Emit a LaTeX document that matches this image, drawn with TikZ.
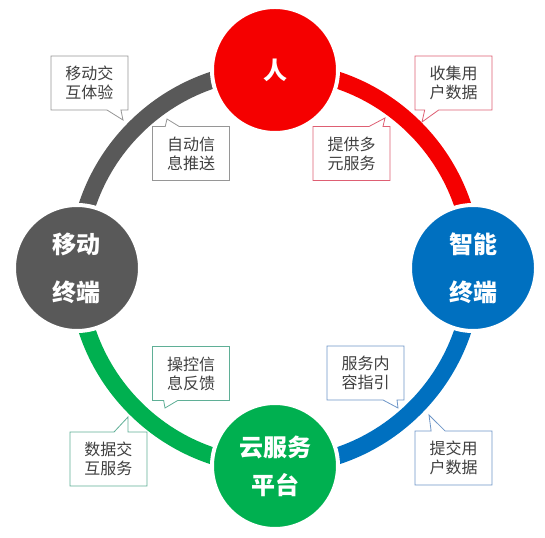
\documentclass[tikz,border=0pt]{standalone}
\usepackage{fontspec}
\newfontfamily\cjk{Noto Sans CJK SC}
\usepackage{tikz}
\usetikzlibrary{shapes.callouts,backgrounds}
\definecolor{hubred}{RGB}{245,0,0}
\definecolor{hubgray}{RGB}{89,89,89}
\definecolor{hubblue}{RGB}{0,112,192}
\definecolor{hubgreen}{RGB}{0,176,80}
\definecolor{tipred}{RGB}{222,95,115}
\definecolor{tipgray}{RGB}{150,150,150}
\definecolor{tipblue}{RGB}{110,150,200}
\definecolor{tipgreen}{RGB}{95,175,150}
\definecolor{tiptext}{RGB}{64,64,64}

\begin{document}
\begin{tikzpicture}[x=1pt,y=1pt,
  hub/.style={circle, minimum size=126pt, inner sep=0pt, draw=white, line width=4pt,
    text=white, align=center, font=\cjk\bfseries\fontsize{24}{30}\selectfont},
  ring/.style={line width=17pt},
  tipbox/.style={rectangle callout, draw, fill=white, line width=0.8pt,
    minimum width=77pt, minimum height=54pt, inner sep=0pt, text=tiptext,
    align=center, callout pointer width=14pt, font=\cjk\fontsize{16}{19}\selectfont}]
\useasboundingbox (-275,-269) rectangle (270,268);
% Hubs on the ring
\node[hub, fill=hubred] (ren) at (0,198) {人};
\node[hub, fill=hubgray] (yidong) at (-198,0) {移动\\[18pt]终端};
\node[hub, fill=hubblue] (zhineng) at (198,0) {智能\\[18pt]终端};
\node[hub, fill=hubgreen] (yun) at (0,-198) {云服务\\[8pt]平台};
% Ring arcs
\begin{pgfonlayer}{background}
\draw[ring, hubred] (ren.center) arc[start angle=90, end angle=0, radius=198pt];
\draw[ring, hubgray] (ren.center) arc[start angle=90, end angle=180, radius=198pt];
\draw[ring, hubgreen] (yidong.center) arc[start angle=180, end angle=270, radius=198pt];
\draw[ring, hubblue] (zhineng.center) arc[start angle=0, end angle=-90, radius=198pt];
\end{pgfonlayer}
% Callout tips
\coordinate (p1) at (-152,148);
\coordinate (p2) at (-108,149);
\coordinate (p3) at (147,146);
\coordinate (p4) at (110,150);
\coordinate (p5) at (-110,-140);
\coordinate (p6) at (123,-140);
\coordinate (p7) at (-147,-149);
\coordinate (p8) at (154,-147);
% Callouts
\node[tipbox, draw=tipgray, callout absolute pointer={(p1)}] (jiaohu) at (-185.5,185) {移动交\\互体验};
\node[tipbox, draw=tipgray, callout absolute pointer={(p2)}] (tuisong) at (-84,114.5) {自动信\\息推送};
\node[tipbox, draw=tipred, callout absolute pointer={(p3)}] (shouji) at (178.5,185) {收集用\\户数据};
\node[tipbox, draw=tipred, callout absolute pointer={(p4)}] (tigong) at (76.5,114.5) {提供多\\元服务};
\node[tipbox, draw=tipgreen, callout absolute pointer={(p5)}] (fankui) at (-84,-105.5) {操控信\\息反馈};
\node[tipbox, draw=tipblue, callout absolute pointer={(p6)}] (zhiyin) at (90.5,-105) {服务内\\容指引};
\node[tipbox, draw=tipgreen, callout absolute pointer={(p7)}] (shuju) at (-166.5,-191) {数据交\\互服务};
\node[tipbox, draw=tipblue, callout absolute pointer={(p8)}] (tijiao) at (178.5,-190) {提交用\\户数据};
\end{tikzpicture}
\end{document}
